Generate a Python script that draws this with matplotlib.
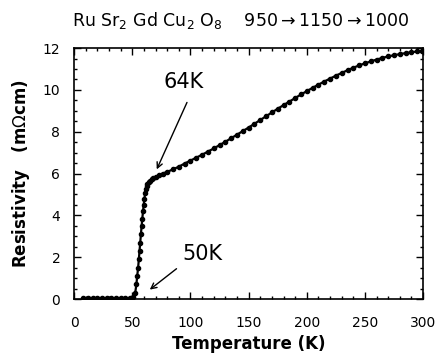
import matplotlib
matplotlib.use('Agg')
import matplotlib.pyplot as plt
from matplotlib.ticker import MultipleLocator

# temperature (K) and resistivity (mOhm cm)
temp = [8, 12, 16, 20, 24, 28, 32, 36, 40, 44, 48, 51, 52.5,
        53.5, 54.2, 55, 55.6, 56.2, 56.8, 57.4, 58, 58.6, 59.2, 59.8,
        60.4, 61, 61.6, 62.2, 63, 64, 65, 66.5, 68, 70, 73, 76, 80,
        85, 90, 95, 100, 105, 110, 115, 120, 125, 130, 135, 140, 145,
        150, 155, 160, 165, 170, 175, 180, 185, 190, 195, 200, 205,
        210, 215, 220, 225, 230, 235, 240, 245, 250, 255, 260, 265,
        270, 275, 280, 285, 290, 295, 299]
res = [0.05, 0.05, 0.05, 0.05, 0.05, 0.05, 0.05, 0.05, 0.05, 0.05, 0.05, 0.08, 0.3,
       0.7, 1.1, 1.5, 1.9, 2.3, 2.7, 3.1, 3.5, 3.85, 4.2, 4.5,
       4.8, 5.05, 5.25, 5.4, 5.52, 5.6, 5.66, 5.72, 5.78, 5.84, 5.92, 6.0, 6.08,
       6.2, 6.33, 6.48, 6.62, 6.76, 6.9, 7.05, 7.2, 7.36, 7.52, 7.69, 7.86, 8.03,
       8.2, 8.38, 8.56, 8.74, 8.92, 9.1, 9.27, 9.44, 9.61, 9.78, 9.94, 10.1,
       10.25, 10.4, 10.54, 10.68, 10.81, 10.94, 11.06, 11.17, 11.27, 11.36, 11.45, 11.53,
       11.6, 11.66, 11.71, 11.76, 11.8, 11.84, 11.87]

fig = plt.figure(figsize=(4.44, 3.56), dpi=100)
ax = fig.add_axes([0.167, 0.160, 0.786, 0.705])

ax.plot(temp, res, color='black', linewidth=1.6, marker='o', markersize=3,
        markerfacecolor='black', markeredgecolor='black')

ax.set_xlim(0, 300)
ax.set_ylim(0, 12)
ax.xaxis.set_major_locator(MultipleLocator(50))
ax.xaxis.set_minor_locator(MultipleLocator(10))
ax.yaxis.set_major_locator(MultipleLocator(2))
ax.yaxis.set_minor_locator(MultipleLocator(0.5))
ax.tick_params(which='both', direction='in', top=True, right=True, width=1)
ax.tick_params(which='major', length=5, labelsize=10)
ax.tick_params(axis='x', which='major', pad=12)
ax.tick_params(axis='y', which='major', pad=10)
ax.tick_params(which='minor', length=2.5)
for s in ax.spines.values():
    s.set_linewidth(1.2)

ax.set_xlabel('Temperature (K)', fontsize=12, fontweight='bold', labelpad=4)
ax.set_ylabel(r'Resistivity   (m$\Omega$cm)', fontsize=12, fontweight='bold', labelpad=8)

# labels and arrows
ax.text(94, 10.4, '64K', fontsize=15, ha='center', va='center')
ax.annotate('', xy=(71, 6.2), xytext=(97, 9.4),
            arrowprops=dict(arrowstyle='->', color='black', lw=1, shrinkA=0, shrinkB=0))
ax.text(110, 2.15, '50K', fontsize=15, ha='center', va='center')
ax.annotate('', xy=(65, 0.45), xytext=(88, 1.45),
            arrowprops=dict(arrowstyle='->', color='black', lw=1, shrinkA=0, shrinkB=0))

fig.text(72 / 444, 1 - 26 / 356,
         r'Ru Sr$_{2}$ Gd Cu$_{2}$ O$_{8}$    950$\rightarrow$1150$\rightarrow$1000',
         fontsize=12.5, ha='left', va='baseline')

fig.savefig('out.png', dpi=100)
